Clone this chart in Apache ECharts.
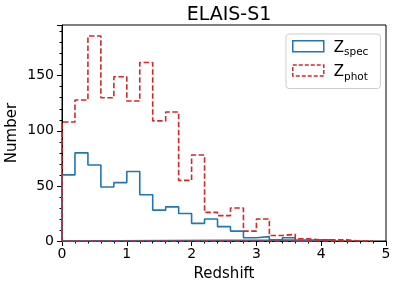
<!DOCTYPE html>
<html><head><meta charset="utf-8">
<script src="https://cdn.jsdelivr.net/npm/echarts@6/dist/echarts.min.js"></script>
<style>html,body{margin:0;padding:0;background:#fff}#c{width:399px;height:290px}</style>
</head><body><div id="c"></div>
<script>
const binWidth = 0.2;
const binStart = 0;
const specCounts = [60,80,69,49,53,63,42,28,31,25,16,20,13,9,3,4,1,3,0,1,1];
const photCounts = [108,128,186,130,149,127,162,109,117,55,78,26,23,30,9,20,5,6,2,1,1,1,0,0];
const xTicks = [0,1,2,3,4,5];
const yTicks = [0,50,100,150];

function stepPath(counts){
  const pts = [[binStart,0]];
  counts.forEach((c,i)=>{
    pts.push([binStart+i*binWidth, c]);
    pts.push([binStart+(i+1)*binWidth, c]);
  });
  pts.push([binStart+counts.length*binWidth, 0]);
  pts.push([binStart, 0]);
  return pts;
}
const F = 'DejaVu Sans';
const chart = echarts.init(document.getElementById('c'));
const legendRich = {
  z:{fontSize:15, fontFamily:F, color:'#000', verticalAlign:'bottom', lineHeight:18},
  s:{fontSize:10.5, fontFamily:F, color:'#000', verticalAlign:'bottom', lineHeight:12, padding:[0,0,-3,0]}
};
chart.setOption({
  animation:false,
  title:{text:'ELAIS-S1', left:224, top:1, textAlign:'center',
    textStyle:{fontFamily:F, fontSize:19, fontWeight:'normal', color:'#000'}},
  grid:{left:62, right:13, top:25, bottom:49, show:true, borderColor:'#000', borderWidth:1,
    backgroundColor:'transparent', outerBoundsMode:'none', containLabel:false},
  legend:{
    orient:'vertical', left:286, top:34,
    backgroundColor:'#fff', borderColor:'#ccc', borderWidth:1, borderRadius:3,
    padding:[6,12,6,6], itemGap:6, itemWidth:31, itemHeight:11, icon:'rect',
    data:[
      {name:'spec', itemStyle:{color:'rgba(0,0,0,0)', borderColor:'#1f77b4', borderWidth:1.5}},
      {name:'phot', itemStyle:{color:'rgba(0,0,0,0)', borderColor:'#d62728', borderWidth:1.5, borderType:[4,2]}}
    ],
    formatter: n => '{z|Z}{s|' + n + '}',
    textStyle:{rich:legendRich, padding:[0,0,0,5]}
  },
  xAxis:{
    type:'value', min:xTicks[0], max:xTicks[xTicks.length-1], interval:1,
    name:'Redshift', nameLocation:'middle', nameGap:26, nameMoveOverlap:false,
    nameTextStyle:{fontFamily:F, fontSize:15, color:'#000'},
    axisLine:{show:true, lineStyle:{color:'#000', width:1}},
    axisTick:{show:true, length:5, lineStyle:{color:'#000'}},
    minorTick:{show:true, splitNumber:5, length:2.5, lineStyle:{color:'#000'}},
    splitLine:{show:false},
    axisLabel:{fontFamily:F, fontSize:14, color:'#000', margin:6}
  },
  yAxis:{
    type:'value', min:0, max:196, interval:50,
    name:'Number', nameLocation:'middle', nameGap:42, nameMoveOverlap:false,
    nameTextStyle:{fontFamily:F, fontSize:15, color:'#000'},
    axisLine:{show:true, lineStyle:{color:'#000', width:1}},
    axisTick:{show:true, length:5, lineStyle:{color:'#000'}},
    minorTick:{show:true, splitNumber:5, length:2.5, lineStyle:{color:'#000'}},
    splitLine:{show:false},
    axisLabel:{fontFamily:F, fontSize:14, color:'#000', margin:8, showMaxLabel:false,
      formatter: v => yTicks.includes(v) ? String(v) : ''}
  },
  series:[
    {name:'spec', type:'line', data:stepPath(specCounts), showSymbol:false, clip:false,
      lineStyle:{color:'#1f77b4', width:1.6}, itemStyle:{color:'#1f77b4'}},
    {name:'phot', type:'line', data:stepPath(photCounts), showSymbol:false, clip:false,
      lineStyle:{color:'#d62728', width:1.6, type:[5.5,2.5]}, itemStyle:{color:'#d62728'}}
  ]
});
</script></body></html>
